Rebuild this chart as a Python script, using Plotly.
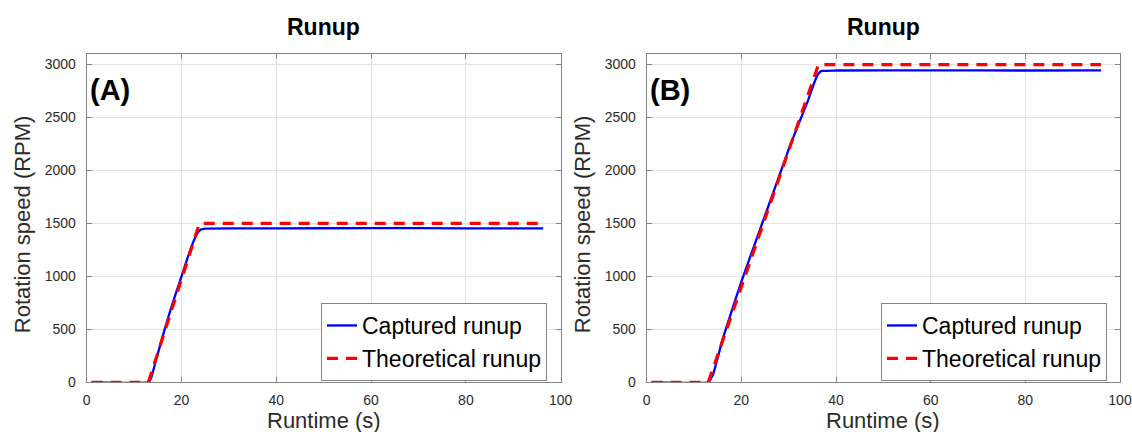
import plotly.graph_objects as go

# ---- data ----
capA_t = [1, 13, 13.6, 14.5, 16.4, 18, 20, 22, 23.4, 24.1, 25, 40, 60, 80, 96.3]
capA_v = [0, 0, 40, 190, 493, 730, 1000, 1270, 1410, 1443, 1452, 1453, 1456, 1454, 1454]
theoA_t = [1, 13, 23.8, 96]
theoA_v = [0, 0, 1500, 1500]

capB_t = [1, 13, 14, 16, 18, 20, 22, 24, 26, 28, 30, 32, 34, 35.5, 36.3, 37.0, 40, 60, 80, 96]
capB_v = [0, 0, 70, 400, 680, 950, 1200, 1450, 1700, 1950, 2200, 2430, 2650, 2840, 2915, 2940, 2944, 2945, 2944, 2945]
theoB_t = [1, 13, 36.3, 96]
theoB_v = [0, 0, 3000, 3000]

x_ticks = [0, 20, 40, 60, 80, 100]
y_ticks = [0, 500, 1000, 1500, 2000, 2500, 3000]
panel_labels = ["(A)", "(B)"]
title_text = "Runup"
x_title = "Runtime (s)"
y_title = "Rotation speed (RPM)"
names = ["Captured runup", "Theoretical runup"]

W, H = 1132, 432
FONT = "Liberation Sans, Arial, Helvetica, sans-serif"
AX = "#858585"
TXT = "#2b2b2b"
GRID = "#e3e3e3"

# plot areas in pixels
panels = [(86.7, 560.7), (646.7, 1120.0)]
top_px, bot_px = 54.0, 382.3

fig = go.Figure()

data = [(capA_t, capA_v, theoA_t, theoA_v), (capB_t, capB_v, theoB_t, theoB_v)]
for i, (ct, cv, tt, tv) in enumerate(data):
    xa = "x" if i == 0 else "x2"
    ya = "y" if i == 0 else "y2"
    lg = "legend" if i == 0 else "legend2"
    fig.add_trace(go.Scatter(x=ct, y=cv, mode="lines", name=names[0],
                             line=dict(color="#0000ff", width=2.3, shape="spline", smoothing=0.3),
                             xaxis=xa, yaxis=ya, legend=lg))
    fig.add_trace(go.Scatter(x=tt, y=tv, mode="lines", name=names[1],
                             line=dict(color="#ff0000", width=3.2, dash="11px,8px"),
                             xaxis=xa, yaxis=ya, legend=lg))

def xaxis_cfg(x0, x1, anchor):
    return dict(domain=[x0 / W, x1 / W], range=[0, 100], tickvals=x_ticks,
                showgrid=True, gridcolor=GRID, gridwidth=1, zeroline=False,
                showline=True, linecolor=AX, linewidth=1, mirror="ticks",
                ticks="inside", ticklen=5, tickcolor=AX,
                tickfont=dict(family=FONT, size=14, color=TXT),
                ticklabelstandoff=5, anchor=anchor, automargin=False)

def yaxis_cfg(anchor):
    return dict(domain=[1 - bot_px / H, 1 - top_px / H], range=[0, 3100], tickvals=y_ticks,
                showgrid=True, gridcolor=GRID, gridwidth=1, zeroline=False,
                showline=True, linecolor=AX, linewidth=1, mirror="ticks",
                ticks="inside", ticklen=5, tickcolor=AX,
                tickfont=dict(family=FONT, size=14, color=TXT),
                ticklabelstandoff=7, anchor=anchor, automargin=False)

annotations = []
for i, (x0, x1) in enumerate(panels):
    cx = (x0 + x1) / 2 / W
    annotations.append(dict(text="<b>" + title_text + "</b>", x=cx, y=1 - 27 / H,
                            xref="paper", yref="paper", showarrow=False,
                            xanchor="center", yanchor="middle",
                            font=dict(family=FONT, size=23, color="#000")))
    annotations.append(dict(text=x_title, x=cx, y=1 - 420.5 / H,
                            xref="paper", yref="paper", showarrow=False,
                            xanchor="center", yanchor="middle",
                            font=dict(family=FONT, size=22, color=TXT)))
    annotations.append(dict(text=y_title, x=(x0 - 64.5) / W, y=1 - 224 / H,
                            xref="paper", yref="paper", showarrow=False, textangle=-90,
                            xanchor="center", yanchor="middle",
                            font=dict(family=FONT, size=22, color=TXT)))
    annotations.append(dict(text="<b>" + panel_labels[i] + "</b>", x=(x0 + 1.5) / W, y=1 - 90 / H,
                            xref="paper", yref="paper", showarrow=False,
                            xanchor="left", yanchor="middle",
                            font=dict(family=FONT, size=29, color="#000")))

def legend_cfg(right_px):
    return dict(x=right_px / W, y=1 - 303 / H, xanchor="right", yanchor="top",
                bgcolor="#ffffff", bordercolor=AX, borderwidth=1,
                font=dict(family=FONT, size=23, color="#000"),
                tracegroupgap=0, itemwidth=30)

fig.update_layout(
    width=W, height=H,
    margin=dict(l=0, r=0, t=0, b=0),
    paper_bgcolor="#ffffff", plot_bgcolor="#ffffff",
    xaxis=xaxis_cfg(*panels[0], "y"),
    yaxis=yaxis_cfg("x"),
    xaxis2=xaxis_cfg(*panels[1], "y2"),
    yaxis2=yaxis_cfg("x2"),
    legend=legend_cfg(547),
    legend2=legend_cfg(1107),
    annotations=annotations,
    showlegend=True,
)

fig.write_html("out.html",
               config={"displayModeBar": False},
               post_script="document.body.style.margin='0';document.body.style.padding='0';"
                           "document.documentElement.style.overflow='hidden';")
